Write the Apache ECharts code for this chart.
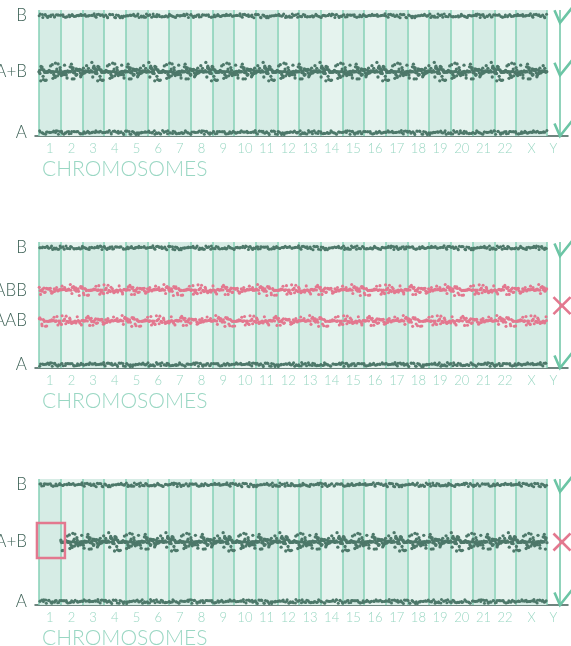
<!DOCTYPE html>
<html><head><meta charset="utf-8">
<script src="https://cdn.jsdelivr.net/npm/echarts@6/dist/echarts.min.js"></script>
<style>html,body{margin:0;padding:0;background:#fff;}#c{width:571px;height:646px;}</style>
</head><body><div id="c"></div>
<script>
// ---------------- data ----------------
const chromosomes = ['1','2','3','4','5','6','7','8','9','10','11','12','13','14','15','16','17','18','19','20','21','22','X','Y'];
const chromWidths = [1,1,1,1,1,1,1,1,1,1,1,1,1,1,1,1,1,1,1,1,1,1,1.43,0.6];
const absentChromosomes = ['Y'];

const panel1YLabels = ['A','A+B','B'];
const panel1YValues = [0, 0.52, 1];
const panel2YLabels = ['A','AAB','ABB','B'];
const panel2YValues = [0, 0.373, 0.638, 1];
const panel3YLabels = ['A','A+B','B'];
const panel3YValues = [0, 0.51, 1];

const panel1Bands = [
  {level: 0, kind: 'hom', tone: 'normal', missing: []},
  {level: 0.52, kind: 'het', tone: 'normal', missing: []},
  {level: 1, kind: 'hom', tone: 'normal', missing: []}
];
const panel2Bands = [
  {level: 0, kind: 'hom', tone: 'normal', missing: []},
  {level: 0.373, kind: 'tri', tone: 'abnormal', missing: []},
  {level: 0.638, kind: 'tri', tone: 'abnormal', missing: []},
  {level: 1, kind: 'hom', tone: 'normal', missing: []}
];
const panel3Bands = [
  {level: 0, kind: 'hom', tone: 'normal', missing: []},
  {level: 0.51, kind: 'het', tone: 'normal', missing: ['1']},
  {level: 1, kind: 'hom', tone: 'normal', missing: []}
];

const panel1Status = [{value: 0.94, mark: 'check'}, {value: 0.49, mark: 'check'}, {value: -0.03, mark: 'check'}];
const panel2Status = [{value: 0.93, mark: 'check'}, {value: 0.505, mark: 'cross'}, {value: -0.03, mark: 'check'}];
const panel3Status = [{value: 0.94, mark: 'check'}, {value: 0.51, mark: 'cross'}, {value: -0.03, mark: 'check'}];

const panel3Highlight = {x0: -0.09, x1: 1.2, y0: 0.373, y1: 0.673};

// hand-typed scatter noise (read-off estimate of the dot clouds)
const jitterY = [0.12,-0.45,0.78,-0.08,0.33,-0.91,0.05,0.56,-0.27,0.19,-0.64,0.41,-0.12,0.87,-0.36,0.02,0.29,-0.73,0.48,-0.18,
0.66,-0.05,-0.52,0.24,0.93,-0.31,0.09,-0.84,0.37,-0.21,0.58,0.14,-0.69,0.03,0.44,-0.39,0.81,-0.15,0.26,-0.58,
0.07,0.62,-0.95,0.18,-0.03,0.51,-0.47,0.35,-0.24,0.72,-0.11,0.01,-0.62,0.39,0.16,-0.83,0.55,-0.29,0.11,0.89,
-0.41,0.22,-0.07,0.68,-0.55,0.31,-0.17,0.04,0.76,-0.35,0.46,-0.78,0.13,-0.26,0.59,-0.01,0.34,-0.66,0.21,0.97,
-0.43,0.08,-0.19,0.53,-0.88,0.27,-0.09,0.64,-0.33,0.15,-0.57,0.42,0.06,-0.71,0.38,-0.14,0.84,-0.49,0.23,-0.02,
0.61,-0.37,0.17,-0.8,0.49,-0.23,0.1,0.74,-0.6,0.28,-0.06,0.43,-0.93,0.2,0.57,-0.32,0.05,-0.5,0.36,-0.16,0.7];
const jitterX = [0.42,0.13,0.77,0.35,0.91,0.05,0.58,0.27,0.69,0.48,0.83,0.19,0.62,0.31,0.96,0.08,0.54,0.38,0.72,0.24,
0.87,0.15,0.45,0.66,0.02,0.79,0.33,0.57,0.11,0.93,0.29,0.64,0.51,0.18,0.85,0.4,0.7,0.06,0.6,0.22,0.5];

// ---------------- styles ----------------
const FONT = 'Lato';
const C_DOT = '#4d786a';
const C_PINK = '#e3788f';
const C_CHECK = '#6cc5a5';
const C_EDGE = '#86d0b6';
const C_SHADE = ['#d6ece5', '#e5f3ee'];
const C_YLAB = '#3e6257';
const C_XLAB = '#9ad7c3';
const Y_MIN = -0.03, Y_MAX = 1.05;
const KIND = {
  hom: {density: 18, spread: 0.018, pow: 1.0, size: 3.0},
  het: {density: 46, spread: 0.085, pow: 1.9, size: 3.3},
  tri: {density: 28, spread: 0.05, pow: 1.6, size: 3.1}
};

// geometry derived from chromosome widths
const starts = [];
let acc = 0;
chromWidths.forEach(w => { starts.push(acc); acc += w; });
const centers = chromosomes.map((c, i) => starts[i] + chromWidths[i] / 2);
const present = chromosomes.map((c, i) => absentChromosomes.indexOf(c) < 0);
const edges = [];
chromosomes.forEach((c, i) => { if (present[i]) edges.push(starts[i]); });
const lastPresent = chromosomes.reduce((m, c, i) => present[i] ? i : m, 0);
edges.push(starts[lastPresent] + chromWidths[lastPresent]);
const statusX = starts[chromosomes.length - 1] + chromWidths[chromosomes.length - 1];

function bandPoints(band, seed) {
  const k = KIND[band.kind];
  const pts = [];
  let idx = seed;
  chromosomes.forEach((c, i) => {
    if (!present[i] || band.missing.indexOf(c) >= 0) return;
    const w = chromWidths[i];
    const n = Math.round(k.density * w);
    for (let j = 0; j < n; j++) {
      const jx = jitterX[(idx * 3 + seed) % jitterX.length];
      const v = jitterY[(idx * 7 + seed * 5) % jitterY.length];
      const dy = Math.sign(v) * Math.pow(Math.abs(v), k.pow) * k.spread;
      pts.push([starts[i] + w * (j + jx) / n, band.level + dy]);
      idx++;
    }
  });
  return pts;
}

const panels = [
  {top: 10, yLabels: panel1YLabels, yValues: panel1YValues, bands: panel1Bands, status: panel1Status, highlight: null},
  {top: 242, yLabels: panel2YLabels, yValues: panel2YValues, bands: panel2Bands, status: panel2Status, highlight: null},
  {top: 479, yLabels: panel3YLabels, yValues: panel3YValues, bands: panel3Bands, status: panel3Status, highlight: panel3Highlight}
];

const grids = [], xAxes = [], yAxes = [], series = [], graphics = [];
panels.forEach((p, pi) => {
  grids.push({left: 35, right: 3, top: p.top, height: 126, containLabel: false, outerBoundsMode: 'none'});
  xAxes.push({
    type: 'value', gridIndex: pi, min: -0.18, max: 24.4,
    axisLine: {show: true, onZero: false, lineStyle: {color: '#3f5e55', width: 1.5}},
    axisTick: {show: false}, splitLine: {show: false},
    axisLabel: {
      customValues: centers, margin: 6, color: C_XLAB, fontFamily: FONT, fontWeight: 300, fontSize: 13,
      formatter: v => { const i = centers.findIndex(c => Math.abs(c - v) < 1e-6); return i >= 0 ? chromosomes[i] : ''; }
    }
  });
  yAxes.push({
    type: 'value', gridIndex: pi, min: Y_MIN, max: Y_MAX,
    axisLine: {show: false}, axisTick: {show: false}, splitLine: {show: false},
    axisLabel: {
      customValues: p.yValues, margin: 8, color: C_YLAB, fontFamily: FONT, fontWeight: 300, fontSize: 17,
      formatter: v => { const i = p.yValues.findIndex(c => Math.abs(c - v) < 1e-6); return i >= 0 ? p.yLabels[i] : ''; }
    }
  });
  // shading
  const shadeData = [];
  chromosomes.forEach((c, i) => { if (present[i]) shadeData.push([starts[i], starts[i] + chromWidths[i], i % 2]); });
  series.push({
    type: 'custom', xAxisIndex: pi, yAxisIndex: pi, silent: true, z: 1,
    data: shadeData,
    renderItem: (params, api) => {
      const a = api.coord([api.value(0), Y_MAX]);
      const b = api.coord([api.value(1), Y_MIN]);
      return {type: 'rect', shape: {x: a[0], y: a[1], width: b[0] - a[0], height: b[1] - a[1]},
        style: {fill: C_SHADE[api.value(2)]}};
    },
    markLine: {
      silent: true, symbol: ['none', 'none'], label: {show: false},
      lineStyle: {color: C_EDGE, width: 1.5, type: 'solid', opacity: 1},
      data: edges.map(e => ({xAxis: e})), z: 2
    }
  });
  // dots
  p.bands.forEach((band, bi) => {
    const k = KIND[band.kind];
    series.push({
      type: 'scatter', xAxisIndex: pi, yAxisIndex: pi, silent: true, z: 3,
      symbol: 'circle', symbolSize: k.size,
      itemStyle: {color: band.tone === 'normal' ? C_DOT : C_PINK, opacity: 1},
      data: bandPoints(band, pi * 13 + bi * 29 + 3)
    });
  });
  // status marks
  series.push({
    type: 'custom', xAxisIndex: pi, yAxisIndex: pi, silent: true, z: 5, clip: false,
    data: p.status.map(s => [statusX, s.value, s.mark === 'check' ? 0 : 1]),
    renderItem: (params, api) => {
      const c = api.coord([api.value(0), api.value(1)]);
      if (api.value(2) === 0) {
        return {type: 'polyline', shape: {points: [[c[0] - 5.5, c[1] - 12.5], [c[0], c[1]], [c[0] + 12, c[1] - 15]]},
          style: {stroke: C_CHECK, lineWidth: 2.6, fill: null, lineJoin: 'miter'}};
      }
      const cx = c[0] + 2, cy = c[1], h = 8.5;
      return {type: 'group', children: [
        {type: 'line', shape: {x1: cx - h, y1: cy - h, x2: cx + h, y2: cy + h}, style: {stroke: C_PINK, lineWidth: 2.6}},
        {type: 'line', shape: {x1: cx - h, y1: cy + h, x2: cx + h, y2: cy - h}, style: {stroke: C_PINK, lineWidth: 2.6}}
      ]};
    },
    markLine: {
      silent: true, symbol: ['none', 'none'], label: {show: false},
      lineStyle: {color: C_CHECK, width: 1.5, type: 'solid', opacity: 1},
      data: [{xAxis: statusX}]
    }
  });
  if (p.highlight) {
    const h = p.highlight;
    series.push({
      type: 'custom', xAxisIndex: pi, yAxisIndex: pi, silent: true, z: 6, clip: false,
      data: [[h.x0, h.y1, h.x1, h.y0]],
      renderItem: (params, api) => {
        const a = api.coord([api.value(0), api.value(1)]);
        const b = api.coord([api.value(2), api.value(3)]);
        return {type: 'rect', shape: {x: a[0], y: a[1], width: b[0] - a[0], height: b[1] - a[1]},
          style: {fill: 'rgba(0,0,0,0)', stroke: C_PINK, lineWidth: 2.5}};
      }
    });
  }
  graphics.push({
    type: 'text', left: 42, top: p.top + 126 + 23,
    style: {text: 'CHROMOSOMES', fill: C_XLAB, font: '300 21px ' + FONT}
  });
});

const chart = echarts.init(document.getElementById('c'), null, {renderer: 'canvas'});
chart.setOption({
  animation: false,
  backgroundColor: '#ffffff',
  grid: grids, xAxis: xAxes, yAxis: yAxes, series: series, graphic: graphics
});
</script>
</body></html>
